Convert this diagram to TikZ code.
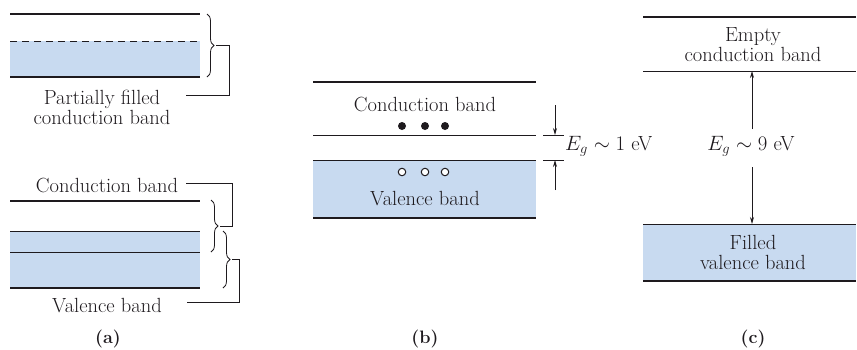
\documentclass[tikz,border=0pt]{standalone}
\usetikzlibrary{decorations.pathreplacing,arrows.meta}
\definecolor{bandblue}{RGB}{200,218,240}
\definecolor{ink}{RGB}{30,26,30}
\begin{document}
\begin{tikzpicture}[x=1pt,y=-1pt,
  thickline/.style={ink,line width=1.8pt},
  thinline/.style={ink,line width=0.9pt},
  lbl/.style={ink,font=\fontsize{20.5}{20}\selectfont,align=center,inner sep=0pt},
  sublbl/.style={ink,font=\fontsize{18}{20}\selectfont\bfseries,inner sep=0pt},
  brc/.style={ink,decorate,decoration={brace,amplitude=7pt},line width=0.8pt},
  lead/.style={ink,line width=0.8pt},
  arr/.style={ink,line width=0.8pt,-{Stealth[length=7pt,width=4pt]}},
  edot/.style={circle,fill=ink,minimum size=8pt,inner sep=0pt},
  hdot/.style={circle,draw=ink,fill=white,line width=1pt,minimum size=7.5pt,inner sep=0pt}]
\useasboundingbox (0,0) rectangle (857,349);
% ---------------- (a) upper: metal, partially filled
\fill[bandblue] (10,41) rectangle (200,77);
\draw[thickline] (10,14) -- (200,14);
\draw[thinline,dash pattern=on 7pt off 5pt] (10,41) -- (200,41);
\draw[thickline] (10,77) -- (200,77);
\draw[brc] (207,14) -- (207,77);
\coordinate (tipA) at (216,45.5);
\coordinate (endA) at (186,95);
\node[lbl] (pf) at (102,107) {Partially filled\\conduction band};
\draw[lead] (tipA) -- (229,45.5) |- (endA);
% ---------------- (a) lower: overlapping bands
\fill[bandblue] (10,231) rectangle (200,288);
\draw[thickline] (10,201) -- (200,201);
\draw[thinline] (10,231) -- (200,231);
\draw[thinline] (10,252) -- (200,252);
\draw[thickline] (10,288) -- (200,288);
\draw[brc] (211,200) -- (211,252);
\draw[brc] (223,231) -- (223,288);
\coordinate (tipB) at (220,226);
\coordinate (tipC) at (232,259.5);
\node[lbl] (cb) at (107,185) {Conduction band};
\node[lbl] (vb) at (107,306) {Valence band};
\coordinate (endB) at (186,183);
\coordinate (endC) at (187,302);
\draw[lead] (endB) -- (232,183) |- (tipB);
\draw[lead] (tipC) -- (239,259.5) |- (endC);
\node[sublbl] (la) at (108,339) {(a)};
% ---------------- (b) semiconductor
\fill[bandblue] (313,160) rectangle (536,218);
\draw[thickline] (313,82) -- (536,82);
\draw[thinline] (313,135) -- (536,135);
\draw[thinline] (313,160) -- (536,160);
\draw[thickline] (313,218) -- (536,218);
\node[lbl] (cbb) at (425,104) {Conduction band};
\node[lbl] (vbb) at (425,199) {Valence band};
\node[edot] (e1) at (402,126) {};
\node[edot] (e2) at (425,126) {};
\node[edot] (e3) at (445,126) {};
\node[hdot] (h1) at (402,172) {};
\node[hdot] (h2) at (425,172) {};
\node[hdot] (h3) at (445,172) {};
\coordinate (tk1l) at (543,135); \coordinate (tk1r) at (564,135);
\coordinate (tk2l) at (543,160); \coordinate (tk2r) at (564,160);
\draw[lead] (tk1l) -- (tk1r);
\draw[lead] (tk2l) -- (tk2r);
\coordinate (a1s) at (555,105); \coordinate (a1e) at (555,135);
\coordinate (a2s) at (555,190); \coordinate (a2e) at (555,160);
\draw[arr] (a1s) -- (a1e);
\draw[arr] (a2s) -- (a2e);
\node[lbl,anchor=west] (egb) at (565,146) {$E_g \sim 1$ eV};
\node[sublbl] (lb) at (425,339) {(b)};
% ---------------- (c) insulator
\fill[bandblue] (643,224) rectangle (856,281);
\draw[thickline] (643,17) -- (856,17);
\draw[thinline] (643,71) -- (856,71);
\draw[thinline] (643,224) -- (856,224);
\draw[thickline] (643,281) -- (856,281);
\node[lbl] (ecb) at (753,45) {Empty\\conduction band};
\node[lbl] (fvb) at (753,252) {Filled\\valence band};
\node[lbl] (egc) at (751,146) {$E_g \sim 9$ eV};
\coordinate (cup) at (752,71);
\coordinate (cdn) at (752,224);
\draw[arr] (752,129) -- (cup);
\draw[arr] (752,167) -- (cdn);
\node[sublbl] (lc) at (753,339) {(c)};
\end{tikzpicture}
\end{document}
